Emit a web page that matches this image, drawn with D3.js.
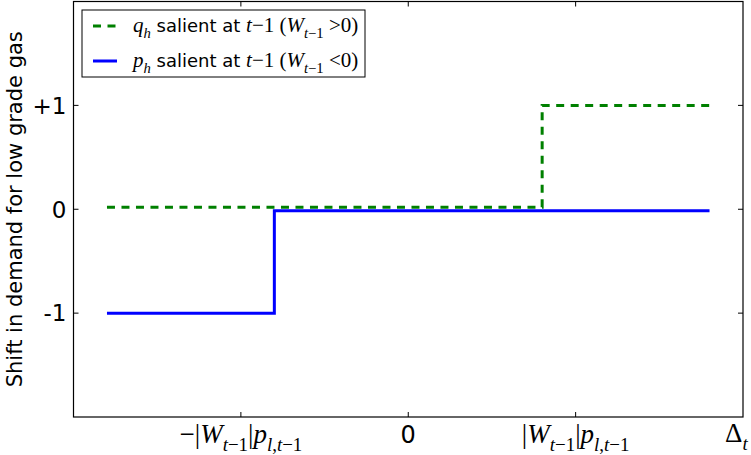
<!DOCTYPE html>
<html>
<head>
<meta charset="utf-8">
<script src="https://cdn.jsdelivr.net/npm/d3@7"></script>
<style>
  body { margin: 0; background: #fff; }
  svg { display: block; }
</style>
</head>
<body>
<div id="chart"></div>
<script>
// step lines, x in units of |W_{t-1}| p_{l,t-1}
var qX = [-1.8, 0.8, 0.8, 1.8];
var qY = [0.02, 0.02, 1, 1];
var pX = [-1.8, -0.8, -0.8, 1.8];
var pY = [-1, -1, -0.015, -0.015];

var yTicks = [1, 0, -1];
var yTickLabels = ["+1", "0", "-1"];
var xTicks = [-1, 0, 1];

// set the dimensions and margins of the graph
var W = 751, H = 455;
var margin = {top: 1.5, right: 8, bottom: 38, left: 73.5},
    width = W - margin.left - margin.right,
    height = H - margin.top - margin.bottom;

var svg = d3.select("#chart")
  .append("svg")
    .attr("width", W)
    .attr("height", H)
  .append("g")
    .attr("transform", "translate(" + margin.left + "," + margin.top + ")");

var x = d3.scaleLinear().domain([-2, 2]).range([0, width]);
var y = d3.scaleLinear().domain([-2, 2]).range([height, 0]);

var serif = "'Liberation Serif', 'DejaVu Serif', serif";
var sans = "'DejaVu Sans', sans-serif";

// draw a label made of pieces: f = font, i = italic, s = subscript
function richText(sel, parts, size, sansSize) {
  var t = sel.append("text");
  var shift = 0;
  parts.forEach(function(p) {
    var want = p.s ? size * 0.3 : 0;
    var fs = p.f === "s" ? (sansSize || size) : (p.s ? size * 0.7 : size);
    t.append("tspan")
      .attr("dy", want - shift)
      .attr("font-family", p.f === "s" ? sans : serif)
      .attr("font-style", p.i ? "italic" : "normal")
      .attr("font-size", fs)
      .text(p.t);
    shift = want;
  });
  return t;
}

// lines
var line = d3.line().x(function(d) { return x(d[0]); }).y(function(d) { return y(d[1]); });

svg.append("path")
  .datum(d3.zip(qX, qY))
  .attr("d", line)
  .attr("fill", "none")
  .attr("stroke", "#008000")
  .attr("stroke-width", 3)
  .attr("stroke-dasharray", "8,6.5");

svg.append("path")
  .datum(d3.zip(pX, pY))
  .attr("d", line)
  .attr("fill", "none")
  .attr("stroke", "#0000ff")
  .attr("stroke-width", 3);

// frame
svg.append("rect")
  .attr("width", width)
  .attr("height", height)
  .attr("fill", "none")
  .attr("stroke", "#000")
  .attr("stroke-width", 1.2);

// ticks (inward on all four sides)
var tk = 5;
yTicks.forEach(function(v) {
  svg.append("line").attr("x1", 0).attr("x2", tk).attr("y1", y(v)).attr("y2", y(v)).attr("stroke", "#000");
  svg.append("line").attr("x1", width).attr("x2", width - tk).attr("y1", y(v)).attr("y2", y(v)).attr("stroke", "#000");
});
xTicks.forEach(function(v) {
  svg.append("line").attr("x1", x(v)).attr("x2", x(v)).attr("y1", height).attr("y2", height - tk).attr("stroke", "#000");
  svg.append("line").attr("x1", x(v)).attr("x2", x(v)).attr("y1", 0).attr("y2", tk).attr("stroke", "#000");
});

// y tick labels
yTicks.forEach(function(v, i) {
  svg.append("text")
    .attr("x", -7)
    .attr("y", y(v))
    .attr("dy", "0.36em")
    .attr("text-anchor", "end")
    .attr("font-family", sans)
    .attr("font-size", 23)
    .text(yTickLabels[i]);
});

// x tick labels
var wp = [
  {t: "|", f: "r"}, {t: "W", i: 1}, {t: "t", i: 1, s: 1}, {t: "−1", s: 1},
  {t: "|", f: "r"}, {t: "p", i: 1}, {t: "l", i: 1, s: 1}, {t: ",", s: 1}, {t: "t", i: 1, s: 1}, {t: "−1", s: 1}
];
var xLabels = [
  [{t: "−"}].concat(wp),
  [{t: "0", f: "s"}],
  wp
];
xTicks.forEach(function(v, i) {
  richText(svg, xLabels[i], 27, 24)
    .attr("x", x(v))
    .attr("y", height + 26)
    .attr("text-anchor", "middle");
});
richText(svg, [{t: "Δ"}, {t: "t", i: 1, s: 1}], 27)
  .attr("x", width - 18)
  .attr("y", height + 25);

// y axis label
svg.append("text")
  .attr("transform", "translate(" + (-52) + "," + y(0) + ") rotate(-90)")
  .attr("text-anchor", "middle")
  .attr("font-family", sans)
  .attr("font-size", 21)
  .text("Shift in demand for low grade gas");

// legend
var leg = svg.append("g").attr("transform", "translate(8.5,8.5)");
leg.append("rect")
  .attr("width", 283)
  .attr("height", 67)
  .attr("fill", "#fff")
  .attr("stroke", "#000")
  .attr("stroke-width", 1);

var legItems = [
  {color: "#008000", dash: "8,6.5", parts: [
    {t: "q", i: 1}, {t: "h", i: 1, s: 1}, {t: " salient at ", f: "s"}, {t: "t", i: 1}, {t: "−1 ("},
    {t: "W", i: 1}, {t: "t", i: 1, s: 1}, {t: "−1", s: 1}, {t: " >0)"}]},
  {color: "#0000ff", dash: null, parts: [
    {t: "p", i: 1}, {t: "h", i: 1, s: 1}, {t: " salient at ", f: "s"}, {t: "t", i: 1}, {t: "−1 ("},
    {t: "W", i: 1}, {t: "t", i: 1, s: 1}, {t: "−1", s: 1}, {t: " <0)"}]}
];
legItems.forEach(function(d, i) {
  var yy = 16 + i * 35;
  leg.append("line")
    .attr("x1", 11).attr("x2", 35)
    .attr("y1", yy).attr("y2", yy)
    .attr("stroke", d.color)
    .attr("stroke-width", 3)
    .attr("stroke-dasharray", d.dash);
  richText(leg, d.parts, 21, 18)
    .attr("x", 51)
    .attr("y", yy + 6);
});
</script>
</body>
</html>
